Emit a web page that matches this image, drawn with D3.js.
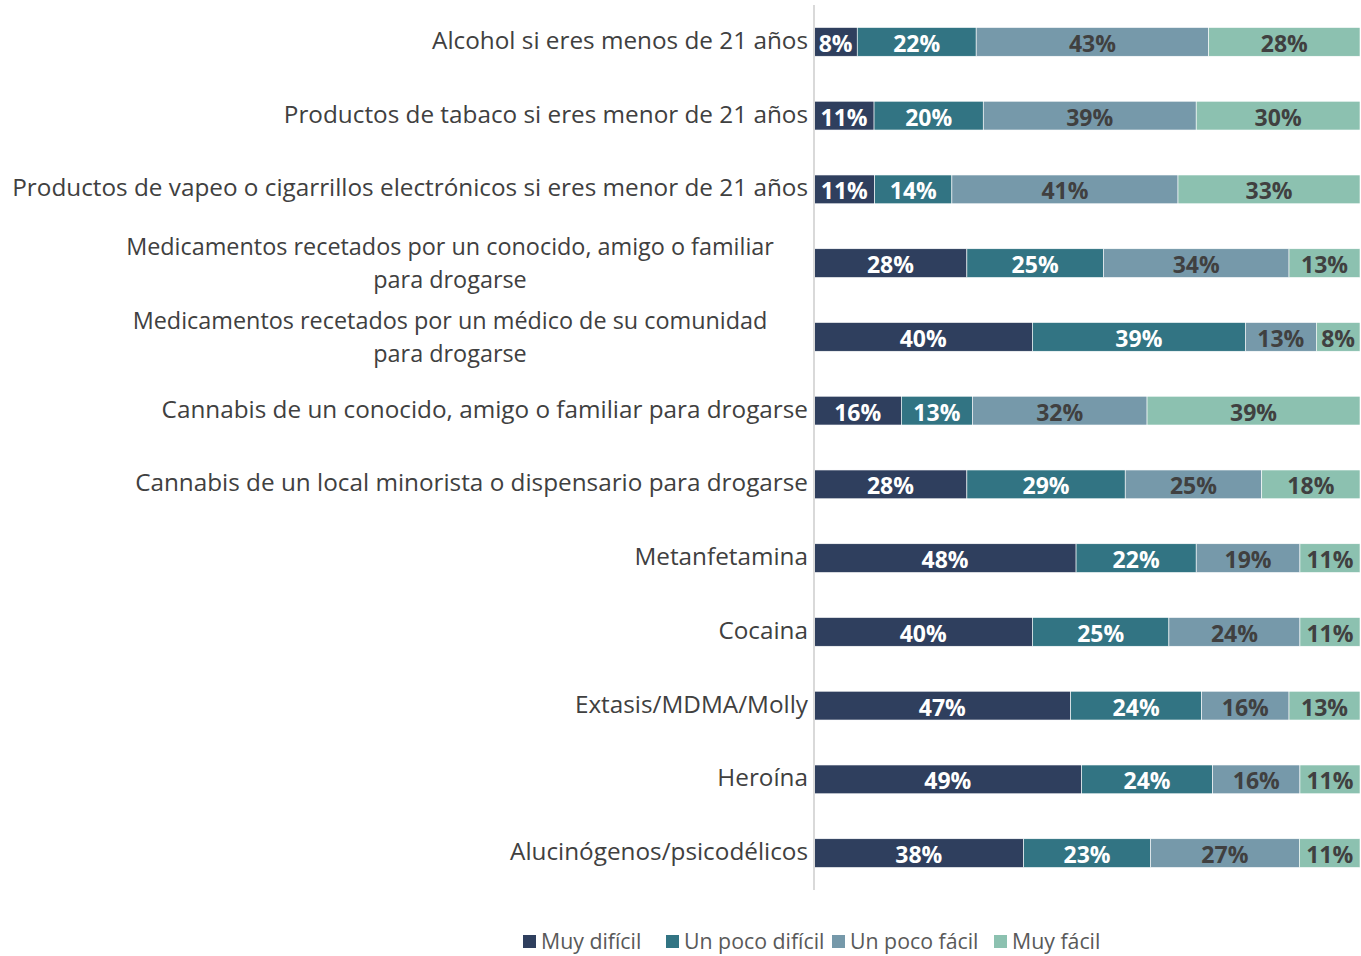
<!DOCTYPE html>
<html>
<head>
<meta charset="utf-8">
<script src="https://cdn.jsdelivr.net/npm/d3@7"></script>
<style>
  body { margin: 0; background: #fff; }
  text { font-family: "Open Sans", "Noto Sans", sans-serif; }
</style>
</head>
<body>
<div id="chart"></div>
<script>
// Chart data
let categories = [
    'Alcohol si eres menos de 21 años',
    'Productos de tabaco si eres menor de 21 años',
    'Productos de vapeo o cigarrillos electrónicos si eres menor de 21 años',
    'Medicamentos recetados por un conocido, amigo o familiar|para drogarse',
    'Medicamentos recetados por un médico de su comunidad|para drogarse',
    'Cannabis de un conocido, amigo o familiar para drogarse',
    'Cannabis de un local minorista o dispensario para drogarse',
    'Metanfetamina',
    'Cocaina',
    'Extasis/MDMA/Molly',
    'Heroína',
    'Alucinógenos/psicodélicos'
];
let seriesNames = ['Muy difícil', 'Un poco difícil', 'Un poco fácil', 'Muy fácil'];
let muyDificil    = [8, 11, 11, 28, 40, 16, 28, 48, 40, 47, 49, 38];
let pocoDificil   = [22, 20, 14, 25, 39, 13, 29, 22, 25, 24, 24, 23];
let pocoFacil     = [43, 39, 41, 34, 13, 32, 25, 19, 24, 16, 16, 27];
let muyFacil      = [28, 30, 33, 13, 8, 39, 18, 11, 11, 13, 11, 11];

let colors = ['#2f3f5e', '#327483', '#7699aa', '#8cc1b0'];
let labelColors = ['#ffffff', '#ffffff', '#404040', '#404040'];

let svgWidth = 1361;
let svgHeight = 956;
let margins = { top: 5, bottom: 66, left: 814, right: 1 };
let chartWidth = svgWidth - margins.left - margins.right;
let chartHeight = svgHeight - margins.top - margins.bottom;

let svg = d3.select('#chart').append('svg')
    .attr('width', svgWidth)
    .attr('height', svgHeight);
let chart = svg.append('g')
    .attr('transform', `translate(${margins.left}, ${margins.top})`);

// Build rows, normalised to 100% like Excel's 100% stacked bar
let series = [muyDificil, pocoDificil, pocoFacil, muyFacil];
let rows = categories.map((c, i) => {
    let vals = series.map(s => s[i]);
    let total = d3.sum(vals);
    let acc = 0;
    let segs = vals.map((v, k) => {
        let seg = { k: k, v: v, x0: acc / total, x1: (acc + v) / total };
        acc += v;
        return seg;
    });
    return { cat: c, segs: segs };
});

let xScale = d3.scaleLinear().domain([0, 1]).range([0, chartWidth]);
let yScale = d3.scaleBand().domain(categories).range([0, chartHeight]).paddingInner(0.61).paddingOuter(0.305);

// Bars
let rowGroup = chart.selectAll('g.row')
    .data(rows).enter()
    .append('g')
    .attr('class', 'row')
    .attr('transform', d => `translate(0, ${yScale(d.cat)})`);

rowGroup.selectAll('rect')
    .data(d => d.segs).enter()
    .append('rect')
    .attr('x', d => xScale(d.x0))
    .attr('width', d => xScale(d.x1) - xScale(d.x0))
    .attr('height', yScale.bandwidth())
    .attr('fill', d => colors[d.k])
    .attr('stroke', '#ffffff')
    .attr('stroke-width', 0.6);

rowGroup.selectAll('text.val')
    .data(d => d.segs).enter()
    .append('text')
    .attr('class', 'val')
    .attr('x', d => xScale((d.x0 + d.x1) / 2))
    .attr('y', yScale.bandwidth() / 2 + 10)
    .attr('text-anchor', 'middle')
    .style('font-size', '23px')
    .style('font-weight', 'bold')
    .attr('fill', d => labelColors[d.k])
    .text(d => `${d.v}%`);

// Vertical axis line
chart.append('line')
    .attr('x1', 0).attr('x2', 0)
    .attr('y1', 0).attr('y2', chartHeight)
    .attr('stroke', '#d9d9d9')
    .attr('stroke-width', 2);

// Category labels
let labelSize = 24.3;
let wrapSize = 23.4;
rowGroup.each(function(d) {
    let lines = d.cat.split('|');
    let g = d3.select(this);
    let mid = yScale.bandwidth() / 2;
    if (lines.length === 1) {
        g.append('text')
            .attr('x', -6)
            .attr('y', mid + 7)
            .attr('text-anchor', 'end')
            .style('font-size', `${labelSize}px`)
            .attr('fill', '#404040')
            .text(lines[0]);
    } else {
        // two-line label, line gap big enough that the lines do not collide
        let gap = Math.ceil(wrapSize * 1.37);
        lines.forEach((l, j) => {
            let t = g.append('text')
                .attr('y', mid - 8 + j * gap)
                .attr('text-anchor', 'middle')
                .style('font-size', `${wrapSize}px`)
                .attr('fill', '#404040')
                .text(l);
            // centre on the label column, but keep clear of the axis
            let w = t.node().getComputedTextLength();
            t.attr('x', Math.min(450 - margins.left, -6 - w / 2));
        });
    }
});

// Legend
let legendX = [523, 666, 832, 994];
let legend = svg.append('g');
seriesNames.forEach((name, i) => {
    legend.append('rect')
        .attr('x', legendX[i])
        .attr('y', 935)
        .attr('width', 13)
        .attr('height', 13)
        .attr('fill', colors[i]);
    legend.append('text')
        .attr('x', legendX[i] + 18)
        .attr('y', 949)
        .style('font-size', '21.3px')
        .attr('fill', '#595959')
        .text(name);
});
</script>
</body>
</html>
